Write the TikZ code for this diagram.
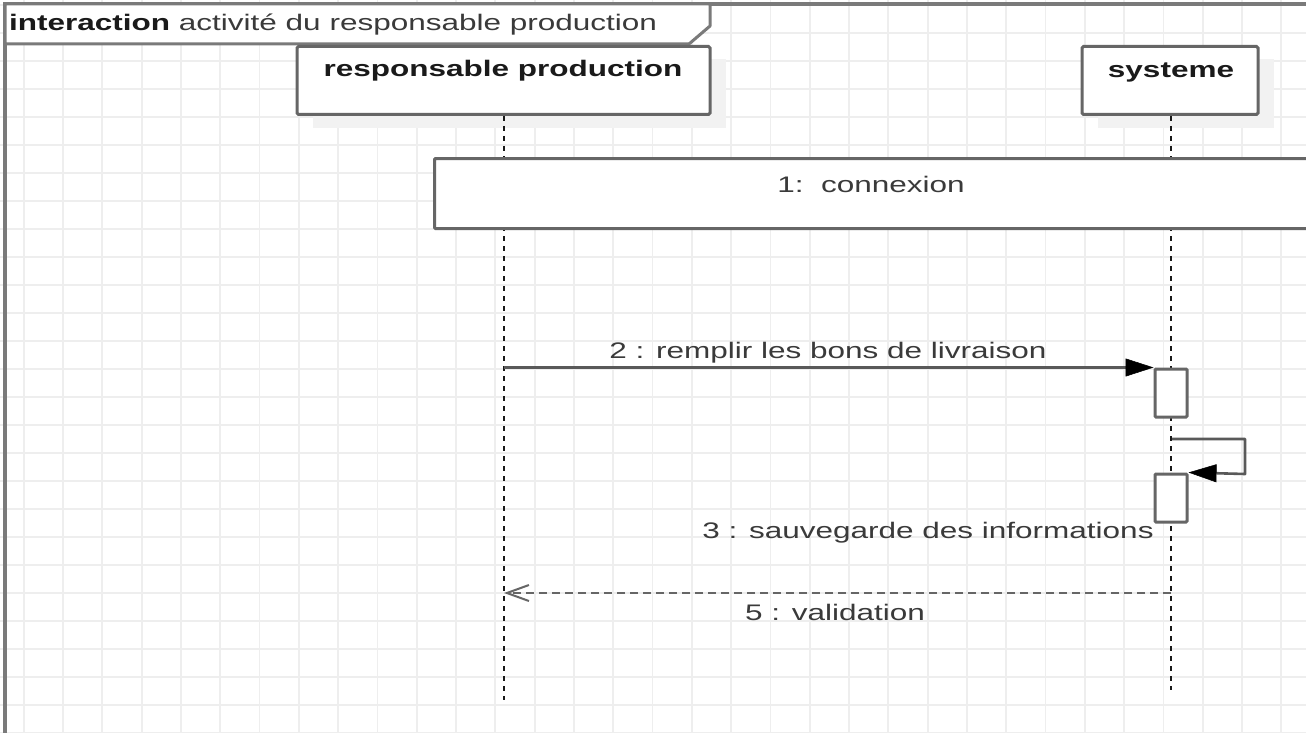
\documentclass[tikz,border=0pt]{standalone}
\usepackage{fontspec}
\usepackage{graphicx}
\setmainfont{Liberation Sans}
\usetikzlibrary{arrows.meta,calc}

\definecolor{gridc}{HTML}{EEEEEE}
\definecolor{framec}{HTML}{7A7A7A}
\definecolor{boxc}{HTML}{666666}
\definecolor{shadowc}{HTML}{F2F2F2}
\definecolor{textc}{HTML}{3A3A3A}
\definecolor{boldc}{HTML}{1A1A1A}

% labels are set in a horizontally widened sans face
\newcommand{\wide}[1]{\scalebox{1.4}[1]{#1}}

\tikzset{
  lbl/.style={inner sep=0pt, text=textc, font=\fontsize{22.5}{27}\selectfont},
  head/.style={lbl, text=boldc, font=\fontsize{22.5}{27}\selectfont\bfseries},
  umlbox/.style={draw=boxc, fill=white, line width=3pt, rounded corners=1.5pt, inner sep=0pt},
  lifeline/.style={draw=black!90, line width=2.8pt, dash pattern=on 5pt off 5pt},
  msg/.style={draw=black!65, line width=2.6pt,
              -{Triangle[length=28pt,width=18pt,color=black,line width=0.5pt]}},
  retmsg/.style={draw=black!60, line width=2.4pt, dash pattern=on 8pt off 5pt,
                 -{Straight Barb[length=22pt,width=16pt,line width=2pt]}},
}

\begin{document}
\begin{tikzpicture}[x=1pt,y=-1pt]
\useasboundingbox (0,0) rectangle (1306,733);
\fill[white] (0,0) rectangle (1306,733);

% background grid
\foreach \k in {0,...,32}
  \draw[gridc, line width=1.8pt] ({23.7+39.3*\k},0) -- ({23.7+39.3*\k},733);
\foreach \k in {0,...,26}
  \draw[gridc, line width=1.8pt] (0,{5.3+28*\k}) -- (1306,{5.3+28*\k});

% interaction frame and its name tab
\draw[framec, line width=3.5pt] (5,745) -- (5,4) -- (1320,4);
\draw[framec, fill=white, line width=3pt, line join=round]
  (5,4) -- (710,4) -- (710,26) -- (689,44) -- (5,44) -- cycle;
\node[lbl, anchor=west] (title) at (9,25)
  {\wide{\textcolor{boldc}{\bfseries interaction} activité du responsable production}};

% lifeline heads
\node[minimum width=413pt, minimum height=68pt, inner sep=0pt] (rp) at (503.5,80.5) {};
\node[minimum width=176pt, minimum height=68pt, inner sep=0pt] (sys) at (1170,80.5) {};
\fill[shadowc] ($(rp.north west)+(16,13)$) rectangle ($(rp.south east)+(16,13)$);
\fill[shadowc] ($(sys.north west)+(16,13)$) rectangle ($(sys.south east)+(16,13)$);
\node[umlbox, minimum width=413pt, minimum height=68pt] (rpbox) at (rp) {};
\node[umlbox, minimum width=176pt, minimum height=68pt] (sysbox) at (sys) {};
\node[head] (rptxt) at (503,71) {\wide{responsable production}};
\node[head] (systxt) at (1171,72) {\wide{systeme}};

% lifelines
\coordinate (rpend) at (504,700);
\coordinate (sysend) at (1171,690);
\draw[lifeline] (rpbox.south -| rpend) -- (rpend);
\draw[lifeline] (sysbox.south -| sysend) -- (sysend);

% interaction use: connexion
\node[umlbox, rounded corners=1pt, minimum width=890pt, minimum height=70pt, anchor=north west] (cx) at (433,157) {};
\node[lbl] (cxtxt) at (871,184) {\wide{1:\ \ connexion}};

% activations on the system lifeline
\node[umlbox, rounded corners=1pt, minimum width=32pt, minimum height=48pt] (act1) at (1171,393) {};
\node[umlbox, rounded corners=1pt, minimum width=32pt, minimum height=48pt] (act2) at (1171,498) {};

% message 2
\draw[msg] (rpend |- act1.north west) -- (act1.north west);
\node[lbl] (m2) at (828,353) {\wide{2 : remplir les bons de livraison}};

% message 3 (self call)
\coordinate (s1) at (1172,439);
\coordinate (s2) at (1245,474);
\draw[msg, line join=round] (s1) -| (s2) -- (act2.north east);
\node[lbl] (m3) at (928,533) {\wide{3 : sauvegarde des informations}};

% reply 5
\coordinate (r0) at (1171,593);
\draw[retmsg] (r0) -- (rpend |- r0);
\node[lbl] (m5) at (835,612) {\wide{5 : validation}};
\end{tikzpicture}
\end{document}
